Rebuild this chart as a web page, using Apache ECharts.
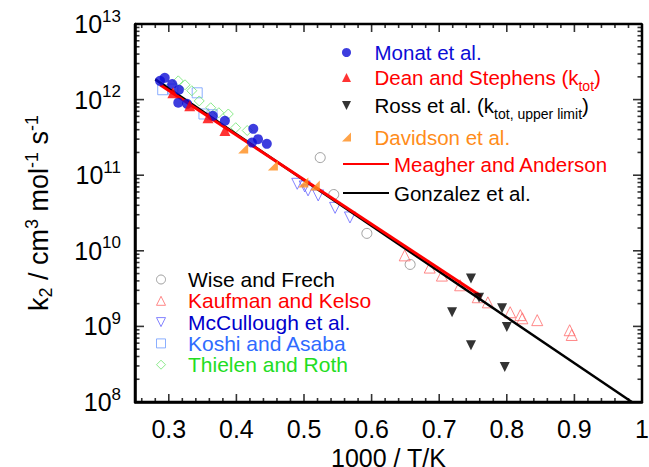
<!DOCTYPE html>
<html>
<head>
<meta charset="utf-8">
<script src="https://cdn.jsdelivr.net/npm/echarts@6/dist/echarts.min.js"></script>
<style>
  html, body { margin: 0; padding: 0; background: #ffffff; }
  #chart { width: 649px; height: 467px; }
</style>
</head>
<body>
<div id="chart"></div>
<script>
// Rate constant k2 (cm3 mol-1 s-1) against 1000/T (K-1), by data set
const monatX = [0.287, 0.294, 0.305, 0.315, 0.314, 0.327, 0.365, 0.383, 0.425, 0.423, 0.432, 0.445];
const monatY = [1.77e12, 1.94e12, 1.61e12, 1.35e12, 9.1e11, 8.8e11, 6.1e11, 5.25e11, 4.1e11, 2.7e11, 3.0e11, 2.6e11];
const deanX = [0.306, 0.331, 0.358, 0.383];
const deanY = [1.23e12, 8.3e11, 5.75e11, 3.9e11];
const rossX = [0.747, 0.719, 0.759, 0.793, 0.800, 0.747, 0.797];
const rossY = [4.3e9, 1.54e9, 2.4e9, 1.74e9, 9.8e8, 5.65e8, 2.9e8];
const davidsonX = [0.410, 0.454, 0.499, 0.516];
const davidsonY = [2.25e11, 1.34e11, 8.0e10, 7.3e10];
const meagherX = [0.287, 0.762];
const meagherY = [1.57e12, 2.5e9];
const gonzalezX = [0.280, 0.985];
const gonzalezY = [1.85e12, 1.0e8];
const wiseX = [0.524, 0.544, 0.593, 0.657];
const wiseY = [1.71e11, 5.55e10, 1.70e10, 6.6e9];
const kaufmanX = [0.649, 0.686, 0.704, 0.731, 0.757, 0.772, 0.805, 0.820, 0.823, 0.845, 0.893, 0.896];
const kaufmanY = [8.7e9, 6.0e9, 4.7e9, 3.5e9, 2.43e9, 2.08e9, 1.54e9, 1.41e9, 1.28e9, 1.21e9, 8.9e8, 7.7e8];
const mcculloughX = [0.490, 0.501, 0.506, 0.521, 0.546, 0.568];
const mcculloughY = [7.7e10, 7.1e10, 6.3e10, 5.4e10, 3.7e10, 2.76e10];
const koshiX = [0.291, 0.306, 0.342, 0.352, 0.364];
const koshiY = [1.35e12, 1.38e12, 1.23e12, 6.45e11, 6.3e11];
const thielenX = [0.314, 0.324, 0.334, 0.345, 0.362, 0.374, 0.388, 0.399, 0.416];
const thielenY = [1.77e12, 1.57e12, 1.31e12, 9.6e11, 7.8e11, 6.7e11, 6.45e11, 4.25e11, 3.9e11];

// Axis ticks
const xMajorTicks = [0.3, 0.4, 0.5, 0.6, 0.7, 0.8, 0.9, 1.0];
const xMinorTicks = [0.26, 0.28, 0.32, 0.34, 0.36, 0.38, 0.42, 0.44, 0.46, 0.48,
  0.52, 0.54, 0.56, 0.58, 0.62, 0.64, 0.66, 0.68, 0.72, 0.74, 0.76, 0.78,
  0.82, 0.84, 0.86, 0.88, 0.92, 0.94, 0.96, 0.98];
const yMajorTicks = [1e8, 1e9, 1e10, 1e11, 1e12, 1e13];
const yMinorTicks = [];
for (let e = 8; e < 13; e++) {
  for (let m = 2; m <= 9; m++) yMinorTicks.push(m * Math.pow(10, e));
}

const X_MIN = 0.25, X_MAX = 1.0, Y_MIN = 1e8, Y_MAX = 1e13;
const pairs = (xs, ys) => xs.map((x, i) => [x, ys[i]]);
const FONT = '"Liberation Sans", Arial, Helvetica, sans-serif';

// Marker outlines as paths, so legend icons keep their proportions
const SYM_UP = 'path://M5,0 L10,10 L0,10 Z';
const SYM_DOWN = 'path://M0,0 L10,0 L5,10 Z';
const SYM_SQUARE = 'path://M0,0 L10,0 L10,10 L0,10 Z';
const SYM_DIAMOND = 'path://M5,0 L10,5 L5,10 L0,5 Z';
const SYM_CORNER = 'path://M10,0 L10,10 L0,10 Z';

// Inward tick marks: thin bars anchored on the frame edge, pointing into the plot
const TICK_W = 1.6;
function tickMarks(points, size, offset) {
  return {
    type: 'scatter', silent: true, clip: false, z: 6,
    symbol: 'rect', symbolSize: size, symbolOffset: offset,
    itemStyle: { color: '#000' },
    emphasis: { disabled: true },
    data: points
  };
}
const tickSeries = [
  tickMarks(xMajorTicks.map(v => [v, Y_MIN]), [TICK_W, 8], [0, -4]),
  tickMarks(xMajorTicks.map(v => [v, Y_MAX]), [TICK_W, 8], [0, 4]),
  tickMarks(xMinorTicks.map(v => [v, Y_MIN]), [TICK_W, 4], [0, -2]),
  tickMarks(xMinorTicks.map(v => [v, Y_MAX]), [TICK_W, 4], [0, 2]),
  tickMarks(yMajorTicks.map(v => [X_MIN, v]), [9, TICK_W], [4.5, 0]),
  tickMarks(yMajorTicks.map(v => [X_MAX, v]), [9, TICK_W], [-4.5, 0]),
  tickMarks(yMinorTicks.map(v => [X_MIN, v]), [4.5, TICK_W], [2.25, 0]),
  tickMarks(yMinorTicks.map(v => [X_MAX, v]), [4.5, TICK_W], [-2.25, 0])
];

// Plot frame traced along the axis limits
const frameSeries = {
  type: 'line', silent: true, clip: false, z: 6, symbol: 'none',
  lineStyle: { color: '#000', width: 2.5 },
  emphasis: { disabled: true },
  data: [[X_MIN, Y_MIN], [X_MAX, Y_MIN], [X_MAX, Y_MAX], [X_MIN, Y_MAX], [X_MIN, Y_MIN]]
};

const hollow = (c) => ({ color: 'transparent', borderColor: c, borderWidth: 1 });
const noIconMark = { color: 'rgba(0,0,0,0)', borderWidth: 0 };

// One legend block per entry of the upper key
const upperKey = [
  { name: 'Monat et al.', label: '{t|Monat et al.}', color: '#0c0cd6', top: 42 },
  { name: 'Dean and Stephens (ktot)', label: '{t|Dean and Stephens (k}{sub|tot}{t|)}', color: '#ff0000', top: 62.5 },
  { name: 'Ross et al. (ktot, upper limit)', label: '{t|Ross et al. (k}{sub|tot, upper limit}{t|)}', color: '#000000', top: 90.5 },
  { name: 'Davidson et al.', label: '{t|Davidson et al.}', color: '#ff8c1a', top: 126.5 },
  { name: 'Meagher and Anderson', label: '{t|Meagher and Anderson}', color: '#ff0000', top: 153.5, line: true },
  { name: 'Gonzalez et al.', label: '{t|Gonzalez et al.}', color: '#000000', top: 182.5, line: true }
];
const upperLegends = upperKey.map(k => ({
  orient: 'vertical', left: 342, top: k.top, padding: 0,
  itemWidth: 46, itemHeight: 9, selectedMode: false,
  itemStyle: { borderWidth: 0 },
  formatter: () => k.label,
  textStyle: {
    fontFamily: FONT, fontSize: 20.5,
    rich: {
      t: { fontFamily: FONT, fontSize: 20.5, lineHeight: 22 },
      sub: { fontFamily: FONT, fontSize: 14, lineHeight: 22, padding: [16, 0, 0, 0] }
    }
  },
  data: [k.line
    ? { name: k.name, textStyle: { color: k.color }, itemStyle: noIconMark }
    : { name: k.name, textStyle: { color: k.color } }]
}));

const chart = echarts.init(document.getElementById('chart'), null, { renderer: 'svg' });
chart.setOption({
  animation: false,
  grid: { left: 135, right: 7, top: 24, bottom: 65, outerBoundsMode: 'none' },
  xAxis: {
    type: 'value', position: 'bottom', min: X_MIN, max: X_MAX,
    splitLine: { show: false },
    axisLine: { show: true, onZero: false, lineStyle: { color: '#000', width: 2.5 } },
    axisTick: { show: false },
    axisLabel: {
      show: true, customValues: xMajorTicks, margin: 14, color: '#000',
      fontFamily: FONT, fontSize: 25,
      formatter: v => (Math.abs(v - 1) < 1e-9 ? '1' : v.toFixed(1))
    },
    name: '1000 / T/K', nameLocation: 'middle', nameGap: 31,
    nameTextStyle: { color: '#000', fontFamily: FONT, fontSize: 25 }
  },
  yAxis: {
    type: 'log', logBase: 10, position: 'left', min: Y_MIN, max: Y_MAX,
    splitLine: { show: false },
    axisLine: { show: true, onZero: false, lineStyle: { color: '#000', width: 2.5 } },
    axisTick: { show: false },
    axisLabel: {
      show: true, customValues: yMajorTicks, margin: 14, color: '#000',
      fontFamily: FONT,
      formatter: v => '{b|10}{s|' + Math.round(Math.log10(v)) + '}',
      rich: {
        b: { fontFamily: FONT, fontSize: 25, lineHeight: 28, color: '#000' },
        s: { fontFamily: FONT, fontSize: 17, lineHeight: 17, padding: [0, 0, 16, 0], color: '#000' }
      }
    },
    name: '{n|k}{sb|2}{n| / cm}{sp|3}{n| mol}{sp|-1}{n| s}{sp|-1}',
    nameLocation: 'middle', nameRotate: 90, nameGap: 80,
    nameTextStyle: {
      color: '#000', fontFamily: FONT,
      rich: {
        n: { fontFamily: FONT, fontSize: 27, lineHeight: 32, color: '#000' },
        sb: { fontFamily: FONT, fontSize: 18, lineHeight: 32, padding: [14, 0, 0, 0], color: '#000' },
        sp: { fontFamily: FONT, fontSize: 18, lineHeight: 32, padding: [0, 0, 14, 0], color: '#000' }
      }
    }
  },
  legend: upperLegends.concat([
    {
      orient: 'vertical', left: 156, top: 269, padding: 0, itemGap: 0.3,
      itemWidth: 44, itemHeight: 9, selectedMode: false,
      itemStyle: { borderWidth: 1 },
      textStyle: { fontFamily: FONT, fontSize: 21, lineHeight: 20 },
      data: [
        { name: 'Wise and Frech', textStyle: { color: '#000000' } },
        { name: 'Kaufman and Kelso', textStyle: { color: '#ff0000' } },
        { name: 'McCullough et al.', textStyle: { color: '#0000cc' } },
        { name: 'Koshi and Asaba', textStyle: { color: '#2f6bff' } },
        { name: 'Thielen and Roth', textStyle: { color: '#22dd22' } }
      ]
    }
  ]),
  series: [
    { name: 'Wise and Frech', type: 'scatter', symbol: 'circle', symbolSize: 10,
      itemStyle: hollow('#888888'), data: pairs(wiseX, wiseY) },
    { name: 'Kaufman and Kelso', type: 'scatter', symbol: SYM_UP, symbolSize: 11,
      itemStyle: hollow('#ff6a6a'), data: pairs(kaufmanX, kaufmanY) },
    { name: 'McCullough et al.', type: 'scatter', symbol: SYM_DOWN, symbolSize: 11,
      itemStyle: hollow('#6464ff'), data: pairs(mcculloughX, mcculloughY) },
    { name: 'Koshi and Asaba', type: 'scatter', symbol: SYM_SQUARE, symbolSize: 10,
      itemStyle: hollow('#6e9bff'), data: pairs(koshiX, koshiY) },
    { name: 'Thielen and Roth', type: 'scatter', symbol: SYM_DIAMOND, symbolSize: 10,
      itemStyle: hollow('#6ee66e'), data: pairs(thielenX, thielenY) },
    { name: 'Gonzalez et al.', type: 'line', symbol: 'none', z: 3,
      lineStyle: { color: '#000000', width: 2.5 }, itemStyle: { color: '#000000' },
      data: pairs(gonzalezX, gonzalezY) },
    { name: 'Meagher and Anderson', type: 'line', symbol: 'none', z: 3,
      lineStyle: { color: '#ff0000', width: 3 }, itemStyle: { color: '#ff0000' },
      data: pairs(meagherX, meagherY) },
    { name: 'Monat et al.', type: 'scatter', symbol: 'circle', symbolSize: 10, z: 4,
      itemStyle: { color: '#0c0cd6' }, data: pairs(monatX, monatY) },
    { name: 'Dean and Stephens (ktot)', type: 'scatter', symbol: SYM_UP, symbolSize: 11, z: 4,
      itemStyle: { color: '#ff0000' }, data: pairs(deanX, deanY) },
    { name: 'Ross et al. (ktot, upper limit)', type: 'scatter', symbol: SYM_DOWN, symbolSize: 10, z: 4,
      itemStyle: { color: '#000000' }, data: pairs(rossX, rossY) },
    { name: 'Davidson et al.', type: 'scatter', symbol: SYM_CORNER, symbolSize: 10, z: 4,
      itemStyle: { color: '#ff8c1a' }, data: pairs(davidsonX, davidsonY) },
    frameSeries
  ].concat(tickSeries)
});
</script>
</body>
</html>
